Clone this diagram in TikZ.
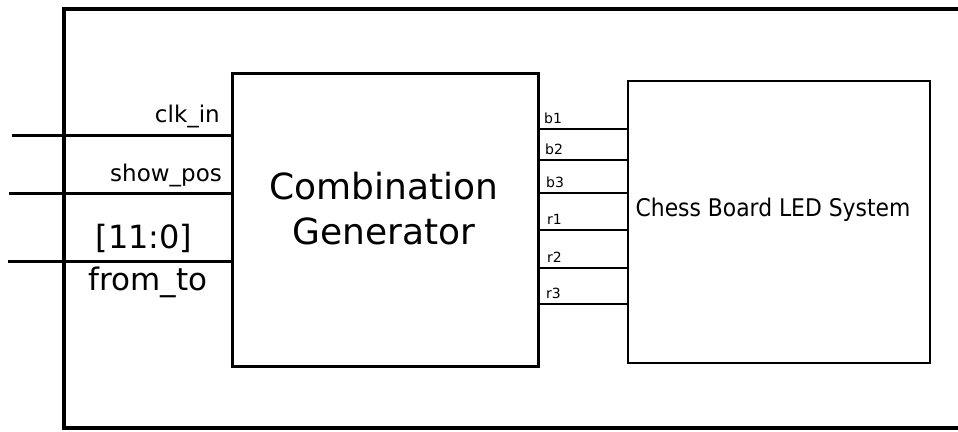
\documentclass[tikz,border=0pt]{standalone}
\usepackage{fontspec}
\setmainfont{DejaVu Sans}
\newfontfamily\condfont{DejaVu Sans Condensed}
\begin{document}
\begin{tikzpicture}[x=1pt,y=-1pt,
  block/.style={draw, line width=3pt, inner sep=0pt, anchor=north west},
  sysblock/.style={draw, line width=2pt, inner sep=0pt, anchor=north west},
  inwire/.style={line width=3pt},
  outwire/.style={line width=2pt},
  inlabel/.style={font=\fontsize{23}{23}\selectfont, inner sep=0pt},
  outlabel/.style={font=\fontsize{14}{14}\selectfont, inner sep=0pt, anchor=base west}]
\useasboundingbox (0,0) rectangle (958,431);
% enclosing frame, open to the right
\draw[line width=4pt] (962,9) -- (64,9) -- (64,428) -- (962,428);
% combination generator block
\node[block, minimum width=306pt, minimum height=293pt] (gen) at (231,72) {};
\node[align=center, font=\fontsize{36}{45}\selectfont] at (384,209) {Combination\\Generator};
% chess board block
\node[sysblock, minimum width=302pt, minimum height=282pt] (led) at (627,80) {};
\node[font=\condfont\fontsize{24.3}{24}\selectfont] at (773,210) {Chess Board LED System};
% input wires
\coordinate (clkA) at (12,135);
\coordinate (showA) at (9,193);
\coordinate (ftA) at (8,261);
\draw[inwire] (clkA) -- (clkA -| gen.west);
\draw[inwire] (showA) -- (showA -| gen.west);
\draw[inwire] (ftA) -- (ftA -| gen.west);
\node[inlabel, anchor=base east] at (220,122) {clk\_in};
\node[inlabel, anchor=base east] at (222,181) {show\_pos};
\node[font=\fontsize{32}{32}\selectfont, inner sep=0pt] at (144,238) {[11:0]};
\node[font=\fontsize{31}{31}\selectfont, inner sep=0pt] at (148,282) {from\_to};
% output wires
\foreach \nm/\yy/\lx in {b1/129/544, b2/160/545, b3/193/546, r1/230/547, r2/268/547, r3/304/546}{
  \coordinate (\nm A) at (538,\yy);
  \draw[outwire] (\nm A) -- (\nm A -| led.west);
  \node[outlabel] at (\lx,\yy-6) {\nm};
}
\end{tikzpicture}
\end{document}
